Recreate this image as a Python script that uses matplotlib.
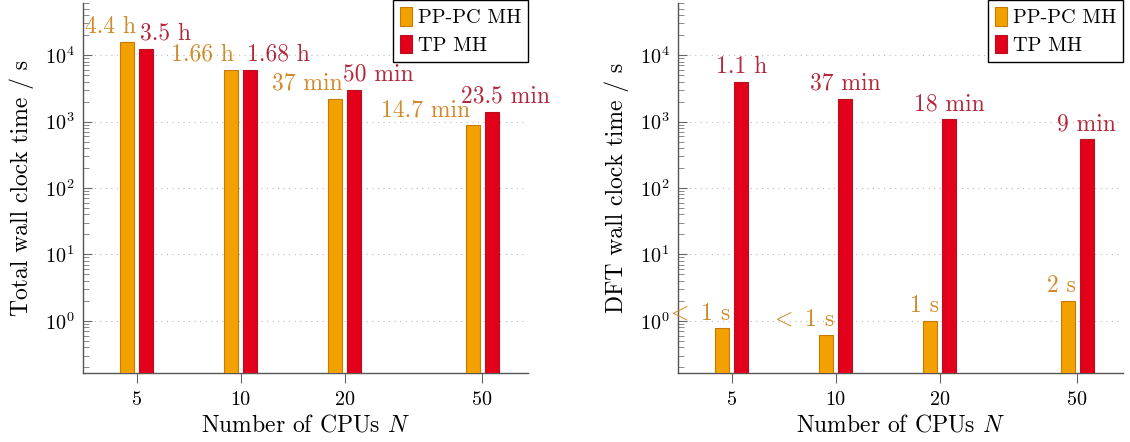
import matplotlib
matplotlib.use("Agg")
import matplotlib.pyplot as plt
import numpy as np
from matplotlib.ticker import FixedLocator, FixedFormatter, NullLocator, LogLocator

plt.rcParams['font.family'] = 'serif'
plt.rcParams['font.serif'] = ['cmr10']
plt.rcParams['mathtext.fontset'] = 'cm'
plt.rcParams['axes.formatter.use_mathtext'] = True
plt.rcParams['axes.unicode_minus'] = False

# data
cpus = [5, 10, 20, 50]
total_ppc = [15840, 5976, 2220, 882]
total_tp = [12600, 6048, 3000, 1410]
total_ppc_lbl = ["4.4 h", "1.66 h", "37 min", "14.7 min"]
total_tp_lbl = ["3.5 h", "1.68 h", "50 min", "23.5 min"]

dft_ppc = [0.77, 0.61, 1.0, 2.0]
dft_tp = [3960, 2220, 1080, 540]
dft_ppc_lbl = ["$<$ 1 s", "$<$ 1 s", "1 s", "2 s"]
dft_tp_lbl = ["1.1 h", "37 min", "18 min", "9 min"]

c_ppc, e_ppc, t_ppc = "#F2A100", "#C97A00", "#D08A2A"
c_tp, e_tp, t_tp = "#E2001A", "#B8101E", "#B2283C"

fig = plt.figure(figsize=(11.3, 4.42), dpi=100)
ax1 = fig.add_axes([0.0732, 0.1554, 0.3943, 0.8385])
ax2 = fig.add_axes([0.5997, 0.1554, 0.3943, 0.8385])

# bar geometry in decades (log x axis)
gap, w = 0.0067, 0.0414


def bars(ax, ppc, tp):
    n = np.array(cpus, dtype=float)
    l1 = n * 10 ** (-gap - w)
    r1 = n * 10 ** (-gap)
    l2 = n * 10 ** gap
    r2 = n * 10 ** (gap + w)
    ax.bar(l1, ppc, width=r1 - l1, align='edge', bottom=1e-3,
           color=c_ppc, edgecolor=e_ppc, linewidth=0.8, label="PP-PC MH", zorder=3)
    ax.bar(l2, tp, width=r2 - l2, align='edge', bottom=1e-3,
           color=c_tp, edgecolor=e_tp, linewidth=0.8, label="TP MH", zorder=3)
    return r1, l2, (l2 + r2) / 2


def style(ax, ylabel):
    ax.set_xscale('log')
    ax.set_yscale('log')
    ax.set_xlim(3.49, 67.9)
    ax.set_ylim(10 ** -0.79, 10 ** 4.79)
    ax.xaxis.set_major_locator(FixedLocator(cpus))
    ax.xaxis.set_major_formatter(FixedFormatter([str(c) for c in cpus]))
    ax.xaxis.set_minor_locator(NullLocator())
    ax.yaxis.set_major_locator(LogLocator(base=10, numticks=20))
    ax.yaxis.set_minor_locator(LogLocator(base=10, subs=np.arange(2, 10), numticks=20))
    for s in ['top', 'right']:
        ax.spines[s].set_visible(False)
    for s in ['left', 'bottom']:
        ax.spines[s].set_color('#555555')
        ax.spines[s].set_linewidth(1.0)
    ax.tick_params(axis='y', which='major', direction='in', length=6.5, color='#666666',
                   labelsize=14.5, pad=6)
    ax.tick_params(axis='y', which='minor', direction='in', length=4, color='#777777')
    ax.tick_params(axis='x', which='major', direction='out', length=7, color='#666666',
                   labelsize=14.5, pad=6)
    ax.grid(axis='y', which='major', linestyle=(0, (1, 4)), color='#bbbbbb', linewidth=0.8)
    ax.set_axisbelow(True)
    ax.set_xlabel("Number of CPUs $N$", fontsize=17, labelpad=4)
    ax.set_ylabel(ylabel, fontsize=17, labelpad=8)
    leg = ax.legend(loc='upper right', bbox_to_anchor=(1.0, 1.007), fontsize=14.7,
                    frameon=True, fancybox=False, framealpha=1, edgecolor='black',
                    handlelength=0.55, handleheight=1.0, handletextpad=0.3,
                    borderpad=0.35, labelspacing=0.35, borderaxespad=0)
    leg.get_frame().set_linewidth(1.0)


# left panel: total time
r1, l2, cen = bars(ax1, total_ppc, total_tp)
style(ax1, "Total wall clock time / s")
dx_ppc = [1, -3, 0, -7]
dx_tp = [1, 3, -3, -17]
for i in range(len(cpus)):
    ax1.annotate(total_ppc_lbl[i], (r1[i], total_ppc[i]), xytext=(dx_ppc[i], 3),
                 textcoords='offset points', ha='right', va='bottom',
                 color=t_ppc, fontsize=17, zorder=5)
    ax1.annotate(total_tp_lbl[i], (l2[i], total_tp[i]), xytext=(dx_tp[i], 3),
                 textcoords='offset points', ha='left', va='bottom',
                 color=t_tp, fontsize=17, zorder=5, annotation_clip=False)

# right panel: DFT time
r1, l2, cen = bars(ax2, dft_ppc, dft_tp)
style(ax2, "DFT wall clock time / s")
for i in range(len(cpus)):
    ax2.annotate(dft_ppc_lbl[i], (r1[i], dft_ppc[i]), xytext=(1, 3),
                 textcoords='offset points', ha='right', va='bottom',
                 color=t_ppc, fontsize=17, zorder=5)
    ax2.annotate(dft_tp_lbl[i], (cen[i], dft_tp[i]), xytext=(0, 3),
                 textcoords='offset points', ha='center', va='bottom',
                 color=t_tp, fontsize=17, zorder=5)

fig.savefig("out.png", dpi=100)
